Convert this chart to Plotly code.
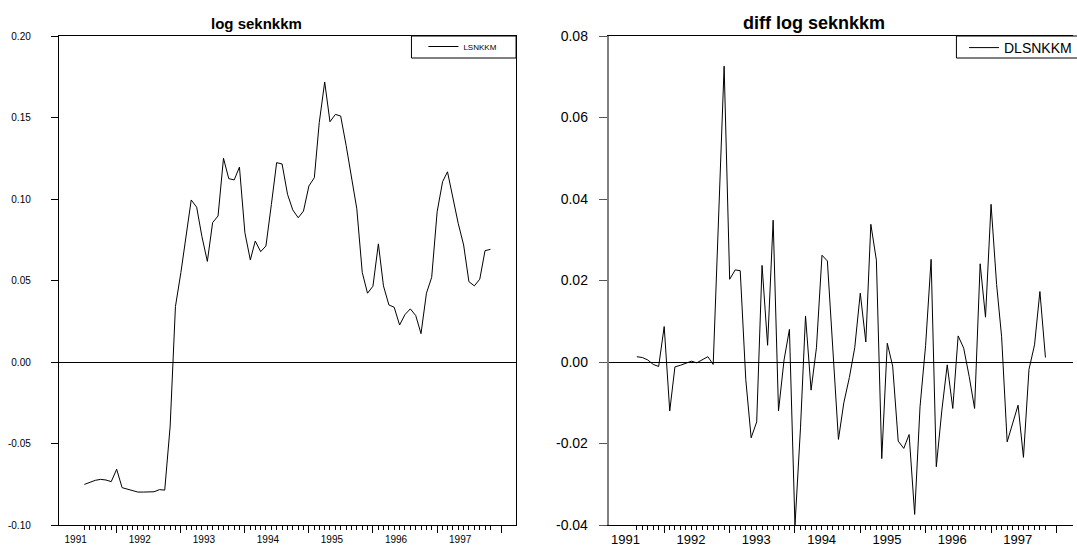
import pandas as pd
import plotly.graph_objects as go

# monthly observations, 1991:07 - 1997:11
months = pd.date_range("1991-07-01", periods=77, freq="MS")

lsnkkm = [
    -0.0751, -0.0736, -0.0726, -0.0720, -0.0724, -0.0734, -0.0658, -0.0771,
    -0.0781, -0.0791, -0.0798, -0.0798, -0.0798, -0.0796, -0.0783, -0.0786,
    -0.0393, 0.0340, 0.0548, 0.0773, 0.0994, 0.0950, 0.0770, 0.0617,
    0.0855, 0.0896, 0.1250, 0.1125, 0.1117, 0.1196, 0.0793, 0.0626,
    0.0742, 0.0677, 0.0712, 0.0967, 0.1223, 0.1215, 0.1029, 0.0933,
    0.0885, 0.0926, 0.1080, 0.1131, 0.1469, 0.1718, 0.1474, 0.1519,
    0.1509, 0.1330, 0.1130, 0.0940, 0.0550, 0.0422, 0.0465, 0.0725,
    0.0467, 0.0350, 0.0336, 0.0227, 0.0290, 0.0326, 0.0285, 0.0174,
    0.0422, 0.0520, 0.0922, 0.1106, 0.1167, 0.0994, 0.0851, 0.0718,
    0.0493, 0.0467, 0.0508, 0.0683, 0.0691,
]

dlsnkkm = [
    0.0013, 0.0011, 0.0005, -0.0006, -0.0011, 0.0087, -0.0120, -0.0012,
    -0.0008, -0.0004, 0.0002, -0.0002, 0.0005, 0.0013, -0.0006, 0.0390,
    0.0726, 0.0203, 0.0226, 0.0224, -0.0043, -0.0186, -0.0147, 0.0237,
    0.0041, 0.0348, -0.0120, 0.0005, 0.0080, -0.0402, -0.0160, 0.0113,
    -0.0069, 0.0035, 0.0262, 0.0248, 0.0020, -0.0190, -0.0100, -0.0038,
    0.0035, 0.0169, 0.0049, 0.0338, 0.0250, -0.0237, 0.0046, -0.0010,
    -0.0194, -0.0212, -0.0178, -0.0374, -0.0110, 0.0040, 0.0252, -0.0257,
    -0.0118, -0.0007, -0.0114, 0.0064, 0.0034, -0.0036, -0.0114, 0.0241,
    0.0110, 0.0387, 0.0190, 0.0062, -0.0196, -0.0151, -0.0106, -0.0234,
    -0.0018, 0.0042, 0.0173, 0.0011,
]

left_ticks = [-0.10, -0.05, 0.00, 0.05, 0.10, 0.15, 0.20]
left_labels = ["-0.10", "-0.05", "0.00", "0.05", "0.10", "0.15", "0.20"]
right_ticks = [-0.04, -0.02, 0.00, 0.02, 0.04, 0.06, 0.08]
right_labels = ["-0.04", "-0.02", "0.00", "0.02", "0.04", "0.06", "0.08"]

FONT = "Liberation Sans, Arial, sans-serif"
W = 1077
H_PLOT = 489  # plot area height in px (546 - 36 - 21)

fig = go.Figure()

fig.add_trace(go.Scatter(
    x=months, y=lsnkkm, name="LSNKKM", mode="lines",
    line=dict(color="black", width=1),
    xaxis="x", yaxis="y", legend="legend", showlegend=True,
))

fig.add_trace(go.Scatter(
    x=months[1:], y=dlsnkkm, name="DLSNKKM", mode="lines",
    line=dict(color="black", width=1),
    xaxis="x2", yaxis="y2", legend="legend2", showlegend=True,
))


def xaxis_opts(domain, rng, minor_vals, size, shift, standoff):
    return dict(
        domain=domain, range=rng, type="date",
        tick0="1991-01-01", dtick="M12", tickformat="%Y",
        ticklabelmode="period", ticklabelshift=shift,
        ticklabelstandoff=standoff,
        ticks="outside", ticklen=7, tickcolor="black", tickwidth=1,
        minor=dict(tickmode="array", tickvals=minor_vals, ticks="outside",
                   ticklen=4, tickcolor="black", tickwidth=1, showgrid=False),
        showline=True, linecolor="black", linewidth=1, mirror=True,
        showgrid=False, zeroline=False, automargin=False,
        tickfont=dict(family=FONT, size=size, color="black"),
    )


def legend_opts(x, size):
    return dict(
        visible=True,
        x=x / W, xanchor="left", y=1 + 4 / H_PLOT, yanchor="top",
        borderwidth=0, bgcolor="rgba(0,0,0,0)",
        font=dict(family=FONT, size=size, color="black"),
    )


fig.update_layout(
    width=W, height=546,
    margin=dict(l=0, r=0, t=36, b=21),
    paper_bgcolor="white", plot_bgcolor="white",
    showlegend=True,
    xaxis=xaxis_opts([59 / W, 518 / W], ["1991-02-05", "1998-03-27"],
                     list(months), 10, -9, -2),
    xaxis2=xaxis_opts([611 / W, 1.0], ["1991-02-25", "1998-04-04"],
                      list(months[1:]), 13, -6, -5),
    yaxis=dict(
        domain=[0, 1], anchor="x", range=[-0.10, 0.20],
        tickmode="array", tickvals=left_ticks, ticktext=left_labels,
        ticks="outside", ticklen=7, tickcolor="black", ticklabelstandoff=18,
        showline=True, linecolor="black", linewidth=1, mirror=True,
        showgrid=False, zeroline=True, zerolinecolor="black", zerolinewidth=1,
        automargin=False, tickfont=dict(family=FONT, size=10, color="black"),
    ),
    yaxis2=dict(
        domain=[0, 1], anchor="x2", range=[-0.04, 0.08],
        tickmode="array", tickvals=right_ticks, ticktext=right_labels,
        ticks="outside", ticklen=8, tickcolor="#555555", ticklabelstandoff=8,
        showline=True, linecolor="#808080", linewidth=2, mirror=False,
        showgrid=False, zeroline=True, zerolinecolor="black", zerolinewidth=1,
        automargin=False, tickfont=dict(family=FONT, size=14, color="black"),
    ),
    legend=legend_opts(425, 8),
    legend2=legend_opts(968, 14),
    # legend frames
    shapes=[
        dict(type="rect", xref="paper", yref="paper",
             x0=413 / W, x1=518 / W, y0=1 - 22 / H_PLOT, y1=1,
             line=dict(color="black", width=1)),
        dict(type="rect", xref="paper", yref="paper",
             x0=960 / W, x1=1.05, y0=1 - 22 / H_PLOT, y1=1,
             line=dict(color="black", width=1)),
    ],
    annotations=[
        dict(text="<b>log seknkkm</b>", x=257 / W, y=1 + 13 / H_PLOT,
             xref="paper", yref="paper", xanchor="center", yanchor="middle",
             showarrow=False, font=dict(family=FONT, size=15, color="black")),
        dict(text="<b>diff log seknkkm</b>", x=817 / W, y=1 + 13 / H_PLOT,
             xref="paper", yref="paper", xanchor="center", yanchor="middle",
             showarrow=False, font=dict(family=FONT, size=18, color="black")),
    ],
)

fig.write_html("out.html", config={"displayModeBar": False},
               post_script="document.body.style.margin='0px';")
